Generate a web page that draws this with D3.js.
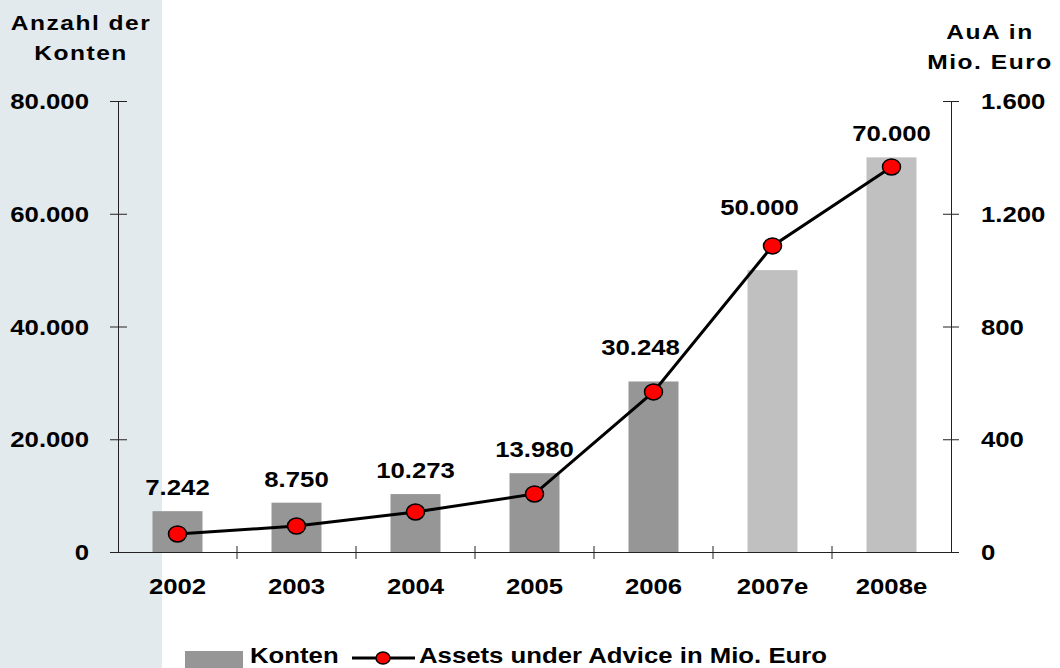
<!DOCTYPE html>
<html>
<head>
<meta charset="utf-8">
<script src="https://cdn.jsdelivr.net/npm/d3@7"></script>
<style>
  body { margin: 0; background: #fff; }
  svg text { font-family: "Liberation Sans", Arial, sans-serif; font-weight: bold; fill: #000; }
</style>
</head>
<body>
<div id="chart"></div>
<script>
// data
const years = ['2002', '2003', '2004', '2005', '2006', '2007e', '2008e'];
const konten = [7242, 8750, 10273, 13980, 30248, 50000, 70000];
const aua = [64, 92, 142, 206, 568, 1086, 1366];
const estimated = [false, false, false, false, false, true, true];
const leftTicks = [0, 20000, 40000, 60000, 80000];
const rightTicks = [0, 400, 800, 1200, 1600];

const de = d3.formatLocale({ decimal: ',', thousands: '.', grouping: [3], currency: ['', ' €'] });
const fmt = de.format(',');

const W = 1060, H = 668;
const margin = { left: 118, right: 951, top: 101, bottom: 552 };
const SX = 1.17; // the original text is drawn a bit wide

// widen text horizontally, keeping its anchor point
function stretch(sel) {
  sel.each(function () {
    const t = d3.select(this);
    const tx = +t.attr('x') || 0, ty = +t.attr('y') || 0;
    t.attr('x', 0).attr('y', 0)
      .attr('transform', 'translate(' + tx + ',' + ty + ') scale(' + SX + ',1)');
  });
}

const svg = d3.select('#chart')
  .append('svg')
  .attr('width', W)
  .attr('height', H);

// grey panel behind the left axis
svg.append('rect')
  .attr('x', 0).attr('y', 0)
  .attr('width', 162).attr('height', H)
  .attr('fill', '#e2eaed');

const x = d3.scaleBand()
  .domain(years)
  .range([margin.left, margin.right])
  .padding(0);

const yL = d3.scaleLinear().domain([0, 80000]).range([margin.bottom, margin.top]);
const yR = d3.scaleLinear().domain([0, 1600]).range([margin.bottom, margin.top]);

const barW = x.bandwidth() * 0.42;
const cx = d => x(d) + x.bandwidth() / 2;

// bars
svg.selectAll('rect.bar')
  .data(konten)
  .enter()
  .append('rect')
  .attr('class', 'bar')
  .attr('x', (d, i) => cx(years[i]) - barW / 2)
  .attr('y', d => yL(d))
  .attr('width', barW)
  .attr('height', d => margin.bottom - yL(d))
  .attr('fill', (d, i) => estimated[i] ? '#c0c0c0' : '#969696');

// left axis
const gL = svg.append('g')
  .attr('transform', 'translate(' + margin.left + ',0)')
  .call(d3.axisLeft(yL).tickValues(leftTicks).tickFormat(fmt).tickSize(8).tickPadding(21));
gL.selectAll('.tick line').attr('x2', -8).attr('x1', 9);

// right axis
const gR = svg.append('g')
  .attr('transform', 'translate(' + margin.right + ',0)')
  .call(d3.axisRight(yR).tickValues(rightTicks).tickFormat(fmt).tickSize(8).tickPadding(22));
gR.selectAll('.tick line').attr('x1', -8).attr('x2', 8);

// x axis
const gX = svg.append('g')
  .attr('transform', 'translate(0,' + margin.bottom + ')')
  .call(d3.axisBottom(x).tickSize(0).tickPadding(26));
gX.selectAll('line.sep')
  .data(years.slice(1))
  .enter()
  .append('line')
  .attr('class', 'sep')
  .attr('x1', d => x(d)).attr('x2', d => x(d))
  .attr('y1', -6).attr('y2', 7);

[gL, gR, gX].forEach(g => {
  g.attr('font-family', null).attr('font-size', null);
  g.select('.domain').attr('stroke', '#222');
  g.selectAll('line').attr('stroke', '#222');
  g.selectAll('.tick text').style('font-size', '22px');
});
gL.selectAll('.tick text').attr('dy', '0.35em');
gR.selectAll('.tick text').attr('dy', '0.35em');
stretch(gL.selectAll('.tick text'));
stretch(gR.selectAll('.tick text'));
stretch(gX.selectAll('.tick text'));

// line
const line = d3.line()
  .x((d, i) => cx(years[i]))
  .y(d => yR(d));

svg.append('path')
  .datum(aua)
  .attr('d', line)
  .attr('fill', 'none')
  .attr('stroke', '#000')
  .attr('stroke-width', 3);

svg.selectAll('ellipse.pt')
  .data(aua)
  .enter()
  .append('ellipse')
  .attr('class', 'pt')
  .attr('cx', (d, i) => cx(years[i]))
  .attr('cy', d => yR(d))
  .attr('rx', 9).attr('ry', 8)
  .attr('fill', '#ff0000')
  .attr('stroke', '#000')
  .attr('stroke-width', 1.5);

// value labels (some moved off the line)
const labelShift = { '2006': [-13, -10], '2007e': [-13, -39] };
const vals = svg.selectAll('text.val')
  .data(konten)
  .enter()
  .append('text')
  .attr('class', 'val')
  .attr('x', (d, i) => cx(years[i]) + (labelShift[years[i]] ? labelShift[years[i]][0] : 0))
  .attr('y', (d, i) => yL(d) - 16 + (labelShift[years[i]] ? labelShift[years[i]][1] : 0))
  .attr('text-anchor', 'middle')
  .style('font-size', '22px')
  .text(d => fmt(d));
stretch(vals);

// axis titles
const titles = svg.append('g').style('font-size', '21px').style('letter-spacing', '1.3px');
titles.append('text').attr('x', 81).attr('y', 30).attr('text-anchor', 'middle').text('Anzahl der');
titles.append('text').attr('x', 81).attr('y', 60).attr('text-anchor', 'middle').text('Konten');
titles.append('text').attr('x', 990).attr('y', 39).attr('text-anchor', 'middle').text('AuA in');
titles.append('text').attr('x', 990).attr('y', 69).attr('text-anchor', 'middle').text('Mio. Euro');
stretch(titles.selectAll('text'));

// legend
const lg = svg.append('g');
lg.append('rect')
  .attr('x', 185).attr('y', 651)
  .attr('width', 58).attr('height', 17)
  .attr('fill', '#969696');
lg.append('text')
  .attr('x', 250).attr('y', 663)
  .style('font-size', '22px')
  .text('Konten');
lg.append('line')
  .attr('x1', 352).attr('x2', 415)
  .attr('y1', 658).attr('y2', 658)
  .attr('stroke', '#000').attr('stroke-width', 3);
lg.append('ellipse')
  .attr('cx', 383).attr('cy', 658)
  .attr('rx', 7).attr('ry', 6)
  .attr('fill', '#ff0000').attr('stroke', '#000').attr('stroke-width', 1.5);
lg.append('text')
  .attr('x', 419).attr('y', 663)
  .style('font-size', '22px')
  .text('Assets under Advice in Mio. Euro');
stretch(lg.selectAll('text'));
</script>
</body>
</html>
